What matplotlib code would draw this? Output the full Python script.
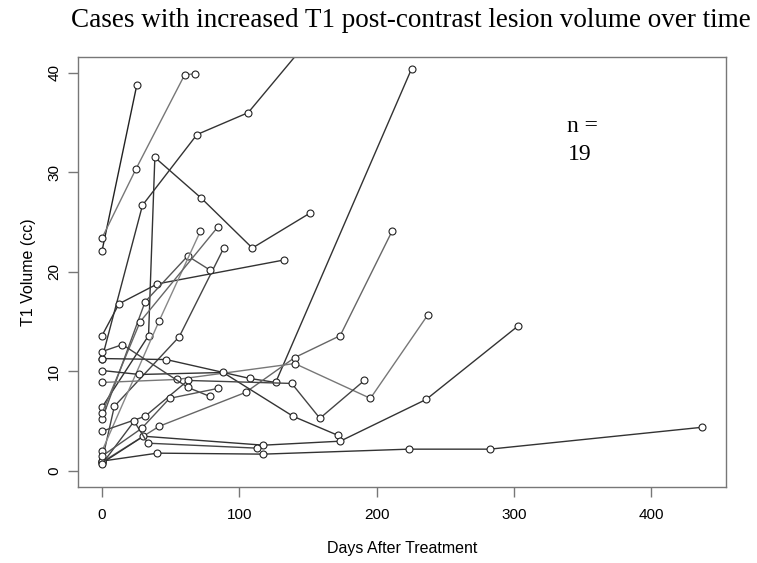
import matplotlib
matplotlib.use("Agg")
import matplotlib.pyplot as plt

# days after treatment / T1 volume (cc) for each of the 19 cases
days = [
    [0, 25.4],
    [0, 24.6, 60.2, 67.8],
    [0, 33.9, 38.5, 72.4, 109.5, 151.4],
    [0, 29.5, 69.2, 106.5, 170],
    [0, 12.4, 40.4, 132.6],
    [0, 9, 56.3, 88.7],
    [0, 31.4, 62.4, 78.5],
    [0, 41.7, 71.7],
    [0, 27.8, 84.3],
    [0, 46.8, 107.7, 126.5, 225.5],
    [0, 41.7, 104.6, 140.4, 173.5, 211.3],
    [0, 54.6, 140.4, 195.5, 237.4],
    [0, 27.3, 88.2, 139.2, 171.6],
    [0, 31.4, 62.6, 138.2, 158.7, 191.1],
    [0, 30.2, 117.5, 173.5, 236.2, 303.3],
    [0, 40.4, 117.5, 223.5, 282.5, 437.3],
    [0, 14.9, 62.6, 78.5],
    [0, 23.4, 33.4, 113.1],
    [0, 29.0, 49.2, 84.3],
]
volume = [
    [22.1, 38.8],
    [23.4, 30.3, 39.8, 39.9],
    [6.4, 13.6, 31.5, 27.4, 22.4, 25.9],
    [11.3, 26.7, 33.8, 36.0, 46.5],
    [13.6, 16.8, 18.8, 21.2],
    [1.0, 6.5, 13.5, 22.4],
    [5.2, 17.0, 21.6, 20.2],
    [2.0, 15.1, 24.1],
    [5.8, 15.0, 24.5],
    [11.3, 11.2, 9.3, 8.9, 40.4],
    [0.9, 4.5, 7.9, 11.4, 13.6, 24.1],
    [8.9, 9.2, 10.8, 7.3, 15.7],
    [10.1, 9.7, 9.9, 5.5, 3.6],
    [4.0, 5.5, 9.1, 8.8, 5.3, 9.1],
    [0.8, 3.5, 2.6, 3.0, 7.2, 14.6],
    [1.0, 1.8, 1.7, 2.2, 2.2, 4.4],
    [12.0, 12.7, 8.4, 7.5],
    [0.7, 5.0, 2.8, 2.3],
    [1.5, 4.3, 7.3, 8.3],
]
line_grey = ["#222", "#777", "#333", "#333", "#333", "#444", "#555", "#888",
             "#666", "#333", "#666", "#777", "#333", "#444", "#333", "#333",
             "#444", "#444", "#555"]

fig = plt.figure(figsize=(7.57, 5.63), dpi=100)
ax = fig.add_axes([0.103, 0.135, 0.856, 0.764])

for d, v, c in zip(days, volume, line_grey):
    ax.plot(d, v, color=c, linewidth=1.0, marker="o", markersize=5,
            markerfacecolor="white", markeredgecolor="#222",
            markeredgewidth=0.8)

ax.set_xlim(-17.5, 454.5)
ax.set_ylim(-1.6, 41.6)
ax.set_xticks([0, 100, 200, 300, 400])
ax.set_yticks([0, 10, 20, 30, 40])
for s in ax.spines.values():
    s.set_color("#777")
    s.set_linewidth(1.0)
ax.tick_params(direction="out", length=7, width=1, color="#777",
               labelsize=11, pad=8)
ax.tick_params(axis="y", pad=5)
for lab in ax.get_xticklabels() + ax.get_yticklabels():
    lab.set_family("Liberation Sans")
for lab in ax.get_yticklabels():
    lab.set_rotation(90)
    lab.set_va("center")

ax.set_xlabel("Days After Treatment", family="Liberation Sans",
              fontsize=11.5, labelpad=14)
ax.set_ylabel("T1 Volume (cc)", family="Liberation Sans",
              fontsize=11.5, labelpad=8)

fig.text(0.543, 0.963, "Cases with increased T1 post-contrast lesion volume over time",
         ha="center", va="center", family="Liberation Serif", fontsize=19.5)
ax.text(0.779, 0.839, "n =", transform=ax.transAxes, family="Liberation Serif",
        fontsize=17, ha="center", va="center")
ax.text(0.775, 0.772, "19", transform=ax.transAxes, family="Liberation Serif",
        fontsize=17, ha="center", va="center")

fig.savefig("out.png", dpi=100)
